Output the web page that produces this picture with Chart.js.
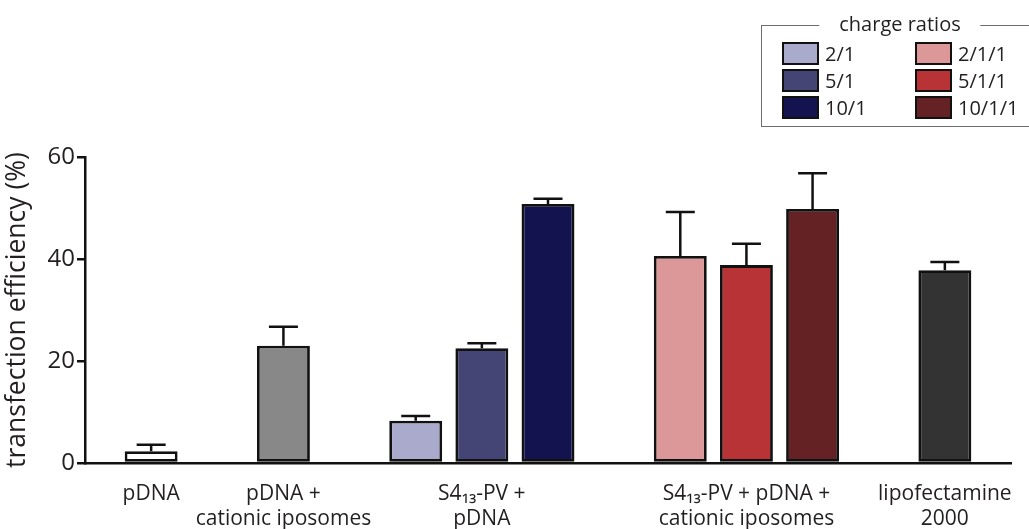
<!DOCTYPE html>
<html>
<head>
<meta charset="utf-8">
<script src="https://cdn.jsdelivr.net/npm/chart.js@4.4.1/dist/chart.umd.min.js"></script>
<style>
  html, body { margin: 0; padding: 0; background: #fff; overflow: hidden; }
  #wrap { position: relative; width: 1029px; height: 529px; font-family: 'Open Sans', sans-serif; color: #231f20; }
  #chart { position: absolute; left: 0; top: 0; }
  #legend { position: absolute; left: 761px; top: 25px; width: 278px; height: 102px; border: 1.5px solid #6d6d6d; box-sizing: border-box; }
  #legend .ttl { position: absolute; top: -15px; left: 50%; transform: translateX(-50%); background: #fff; padding: 0 20px; font-size: 20px; line-height: 26px; white-space: nowrap; }
  .leg-item { position: absolute; display: flex; align-items: center; font-size: 20px; line-height: 22px; }
  .leg-box { width: 33px; height: 19px; border: 2px solid #111; margin-right: 6px; }
</style>
</head>
<body>
<div id="wrap">
  <canvas id="chart" width="1029" height="529"></canvas>
  <div id="legend"><span class="ttl">charge ratios</span></div>
</div>
<script>
// ── dados ─────────────────────────────────────────────────────
const slots = ['', 'pDNA', '', 'pDNA + cationic iposomes', '', '2/1', '5/1', '10/1', '',
               '2/1/1', '5/1/1', '10/1/1', '', 'lipofectamine 2000', ''];
const barNames = ['pDNA', 'pDNA + cationic iposomes', '2/1', '5/1', '10/1',
                  '2/1/1', '5/1/1', '10/1/1', 'lipofectamine 2000'];
const means  = [2.3, 23.0, 8.3, 22.5, 50.8, 40.6, 38.8, 49.8, 37.8];
const errors = [1.3, 3.7, 0.9, 1.0, 1.0, 8.6, 4.2, 7.0, 1.6];
const barColors = ['#ffffff', '#888888', '#aaaacc', '#454575', '#131350',
                   '#dc9899', '#b83336', '#652225', '#333333'];

// rótulos de grupo no eixo x (ficam sob a barra indicada)
const groupAt    = ['pDNA', 'pDNA + cationic iposomes', '5/1', '5/1/1', 'lipofectamine 2000'];
const groupLines = [['pDNA'], ['pDNA +', 'cationic iposomes'], ['S4₁₃-PV +', 'pDNA'],
                    ['S4₁₃-PV + pDNA +', 'cationic iposomes'], ['lipofectamine', '2000']];

const yTicks = [0, 20, 40, 60];

// legenda: razões de carga
const legendLabels = ['2/1', '5/1', '10/1', '2/1/1', '5/1/1', '10/1/1'];

const FONT = "'Open Sans', sans-serif";
const INK  = '#231f20';

// ── legenda em HTML ───────────────────────────────────────────
document.getElementById('legend').insertAdjacentHTML('beforeend', legendLabels.map((lab, i) => {
  const col = i < 3 ? 0 : 1, row = i % 3;
  const color = barColors[barNames.indexOf(lab)];
  return `<div class="leg-item" style="left:${20 + col * 133}px;top:${16 + row * 27}px">` +
         `<div class="leg-box" style="background:${color}"></div>${lab}</div>`;
}).join(''));

// ── barras de erro (só para cima, com capa) ───────────────────
const errorBars = {
  id: 'errorBars',
  afterDatasetsDraw(chart) {
    const { ctx } = chart;
    const y = chart.scales.y;
    const meta = chart.getDatasetMeta(0);
    ctx.save();
    ctx.strokeStyle = '#111';
    ctx.lineWidth = 2.5;
    meta.data.forEach((bar, i) => {
      const top = y.getPixelForValue(means[i] + errors[i]);
      ctx.beginPath();
      ctx.moveTo(bar.x, bar.y);
      ctx.lineTo(bar.x, top);
      ctx.moveTo(bar.x - 14.5, top);
      ctx.lineTo(bar.x + 14.5, top);
      ctx.stroke();
    });
    ctx.restore();
  },
};

new Chart(document.getElementById('chart'), {
  type: 'bar',
  data: {
    labels: slots,
    datasets: [{
      data: barNames.map((n, i) => ({ x: n, y: means[i] })),
      backgroundColor: barColors,
      borderColor: '#111',
      borderWidth: 2.8,
      borderSkipped: false,
      categoryPercentage: 1,
      barPercentage: 0.8,
    }],
  },
  options: {
    responsive: false,
    animation: false,
    layout: { padding: { top: 157, right: 0, bottom: 0, left: 0 } },
    plugins: { legend: { display: false }, tooltip: { enabled: false } },
    scales: {
      x: {
        offset: false,
        afterFit: s => { s.height = 66; },
        grid: { display: false, drawTicks: false },
        border: { display: true, color: '#111', width: 2.5 },
        ticks: {
          autoSkip: false, maxRotation: 0, padding: 18,
          font: { family: FONT, size: 21 }, color: INK,
          callback: (v, i) => {
            const g = groupAt.indexOf(slots[i]);
            return g >= 0 ? groupLines[g] : '';
          },
        },
      },
      y: {
        min: 0, max: 60,
        afterFit: s => { s.width = 85; },
        afterBuildTicks: s => { s.ticks = yTicks.map(v => ({ value: v })); },
        grid: { drawOnChartArea: false, drawTicks: true, tickLength: 8, color: '#111', lineWidth: 2.5 },
        border: { display: true, color: '#111', width: 2.5 },
        ticks: { padding: 2, font: { family: FONT, size: 24 }, color: INK },
        title: {
          display: true, text: 'transfection efficiency (%)',
          font: { family: FONT, size: 26.5 }, color: INK, padding: { top: 2, bottom: 0 },
        },
      },
    },
  },
  plugins: [errorBars],
});
</script>
</body>
</html>
